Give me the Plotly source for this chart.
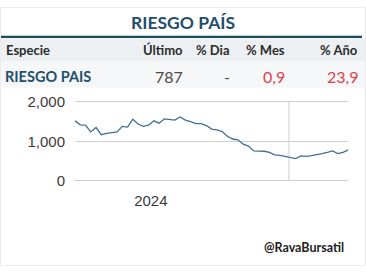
import pandas as pd
import plotly.graph_objects as go

W, H = 366, 273

# ---- data ----
start_date = "2024-03-22"
values = [1520, 1420, 1410, 1240, 1350, 1170, 1200, 1220, 1240, 1380,
          1360, 1560, 1440, 1380, 1410, 1520, 1460, 1570, 1560, 1540,
          1620, 1540, 1500, 1450, 1450, 1400, 1310, 1290, 1250, 1130,
          1060, 1040, 930, 880, 760, 750, 750, 720, 660, 645,
          620, 590, 565, 635, 620, 640, 660, 690, 720, 760,
          690, 720, 787]
dates = pd.date_range(start_date, periods=len(values), freq="7D")

header_labels = ["Especie", "Último", "% Dia", "% Mes", "% Año"]
row_name = "RIESGO PAIS"
row_values = ["787", "-", "0,9", "23,9"]
row_colors = ["#4a4a4a", "#4a4a4a", "#d6434b", "#d6434b"]
year_tick = ["2024-07-01"]
year_text = ["2024"]
year_boundary = "2025-01-01"
y_ticks = [0, 1000, 2000]

def px(x):
    return x / W

def py(y):
    return 1 - y / H

PAD = 40
per = (183.3 - 100) / 2000.0
y_bot_px = 183.3 + PAD * per
y_top_px = 100 - PAD * per

fig = go.Figure()
fig.add_trace(go.Scatter(x=dates, y=values, mode="lines",
                         line=dict(color="#3f6f96", width=1.3),
                         hoverinfo="skip"))

shapes = [
    dict(type="rect", xref="paper", yref="paper", x0=px(0), x1=px(366),
         y0=py(57), y1=py(33), fillcolor="#edf0f3", line_width=0, layer="below"),
    dict(type="rect", xref="paper", yref="paper", x0=px(0), x1=px(366),
         y0=py(85), y1=py(57), fillcolor="#f6f7f8", line_width=0, layer="below"),
    dict(type="line", xref="paper", yref="paper", x0=px(1), x1=px(362),
         y0=py(31.5), y1=py(31.5), line=dict(color="#1d4a5f", width=2.2)),
    dict(type="rect", xref="paper", yref="paper", x0=px(0.5), x1=px(365.5),
         y0=py(272.5), y1=py(0.5), line=dict(color="#ececec", width=1)),
    dict(type="line", xref="x", yref="y", x0=year_boundary, x1=year_boundary,
         y0=0, y1=2000, line=dict(color="#cfcfcf", width=1), layer="below"),
]

ann = []
ann.append(dict(text="<b>RIESGO PAÍS</b>", x=px(183), y=py(16.5), xref="paper", yref="paper",
                showarrow=False, xanchor="center", yanchor="middle",
                font=dict(family="Lato", size=17.5, color="#1f4f6c")))
hx = [4, 185, 232, 287, 360]
for i, lab in enumerate(header_labels):
    ann.append(dict(text="<b>" + lab + "</b>", x=px(hx[i]), y=py(45), xref="paper", yref="paper",
                    showarrow=False, xanchor="left" if i == 0 else "right", yanchor="middle",
                    font=dict(family="Lato", size=13, color="#2b2b2b")))
ann.append(dict(text="<b>" + row_name + "</b>", x=px(3), y=py(73.5), xref="paper", yref="paper",
                showarrow=False, xanchor="left", yanchor="middle",
                font=dict(family="Lato", size=14.5, color="#1f4f6c")))
rx = [185, 232, 287, 360]
for i, v in enumerate(row_values):
    ann.append(dict(text=v, x=px(rx[i]), y=py(73.5), xref="paper", yref="paper",
                    showarrow=False, xanchor="right", yanchor="middle",
                    font=dict(family="Lato", size=16, color=row_colors[i])))
ann.append(dict(text="<b>@RavaBursatil</b>", x=px(346), y=py(253), xref="paper", yref="paper",
                showarrow=False, xanchor="right", yanchor="middle",
                font=dict(family="Lato", size=12.5, color="#222222")))

fig.update_layout(
    width=W, height=H,
    margin=dict(l=0, r=0, t=0, b=0),
    paper_bgcolor="white", plot_bgcolor="white",
    showlegend=False,
    shapes=shapes, annotations=ann,
    xaxis=dict(domain=[px(75), px(348.3)], range=[dates[0], dates[-1]],
               tickvals=year_tick, ticktext=year_text, showgrid=False,
               zeroline=False, showline=False, ticks="",
               ticklabelstandoff=8,
               tickfont=dict(family="Liberation Sans", size=15, color="#3a3a3a")),
    yaxis=dict(domain=[py(y_bot_px), py(y_top_px)], range=[-PAD, 2000 + PAD],
               tickvals=y_ticks, tickformat=",", showgrid=True,
               gridcolor="#cfcfcf", gridwidth=1, zeroline=False,
               showline=False, ticks="", ticklabelstandoff=9,
               tickfont=dict(family="Liberation Sans", size=15, color="#3a3a3a")),
)

fig.write_html("out.html")
